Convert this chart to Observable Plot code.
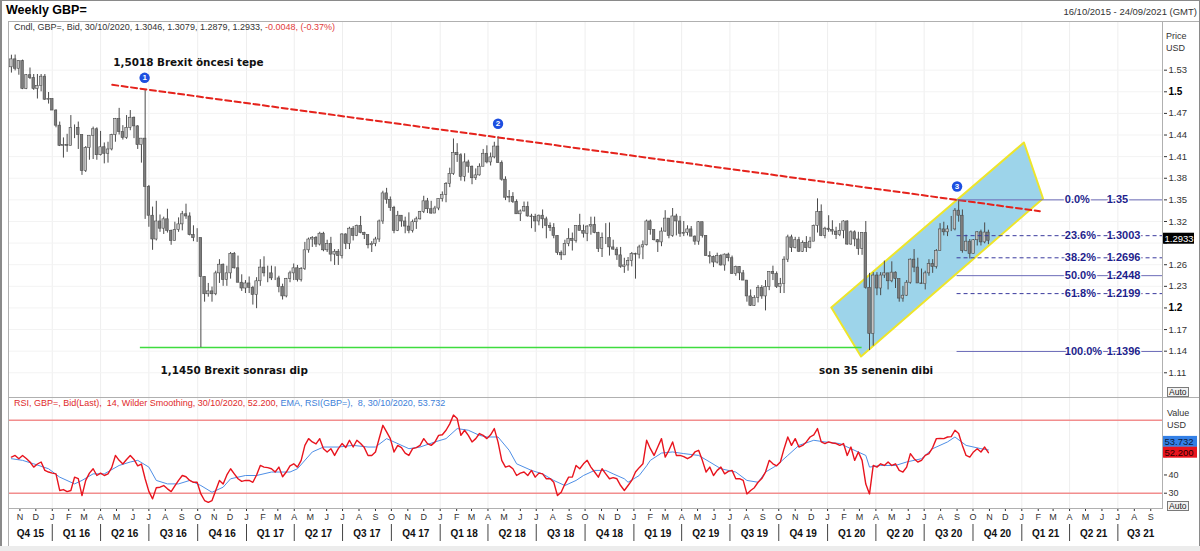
<!DOCTYPE html>
<html>
<head>
<meta charset="utf-8">
<script src="https://cdn.jsdelivr.net/npm/d3@7"></script>
<script src="https://cdn.jsdelivr.net/npm/@observablehq/plot@0.6"></script>
<style>
html,body{margin:0;padding:0;background:#fff;}
#wrap{position:relative;width:1200px;height:551px;overflow:hidden;background:#fff;font-family:"Liberation Sans",Arial,sans-serif;color:#333;}
.a{position:absolute;white-space:pre;line-height:1;}
.ln{position:absolute;background:#b0b0b0;}
.auto{position:absolute;font-size:8.5px;line-height:8px;height:8px;border:1px solid #7a7a7a;background:#f2f2f2;color:#222;padding:0 1px;white-space:pre;}
</style>
</head>
<body>
<div id="wrap">
  <div id="main" class="a" style="left:0;top:22px;"></div>
  <div id="rsi" class="a" style="left:0;top:397px;"></div>
  <div class="a" style="left:6px;top:4px;font-size:12.5px;font-weight:bold;color:#000;">Weekly GBP=</div>
  <div class="a" style="right:3px;top:7px;font-size:9.5px;color:#333;">16/10/2015 - 24/09/2021 (GMT)</div>
  <div class="a" style="left:14px;top:23px;font-size:9px;color:#333;">Cndl, GBP=, Bid, 30/10/2020, 1.3046, 1.3079, 1.2879, 1.2933, <span style="color:#e23b3b">-0.0048, (-0.37%)</span></div>
  <div class="a" style="left:14px;top:399px;font-size:9px;"><span style="color:#e02a2a">RSI, GBP=, Bid(Last),  14, Wilder Smoothing, 30/10/2020, 52.200, </span><span style="color:#3d7fd9">EMA, RSI(GBP=),  8, 30/10/2020, 53.732</span></div>
  <div class="a" style="left:1166px;top:32px;font-size:9px;">Price</div>
  <div class="a" style="left:1166px;top:44px;font-size:9px;">USD</div>
  <div class="a" style="left:1167px;top:409px;font-size:9px;">Value</div>
  <div class="a" style="left:1167px;top:421px;font-size:9px;">USD</div>
  <div class="auto" style="left:1167px;top:387px;">Auto</div>
  <div class="auto" style="left:1167px;top:501px;">Auto</div>
  <div class="ln" style="left:8px;top:21px;width:1192px;height:1px"></div>
  <div class="ln" style="left:8px;top:21px;width:1px;height:525px"></div>
  <div class="ln" style="left:1162px;top:21px;width:1px;height:487px"></div>
  <div class="ln" style="left:8px;top:397px;width:1192px;height:1px"></div>
  <div class="ln" style="left:8px;top:508px;width:1155px;height:1px"></div>
  <div class="ln" style="left:0;top:0;width:1200px;height:1px;background:#8a8a8a"></div>
  <div class="ln" style="left:0;top:0;width:2px;height:551px;background:#8a8a8a"></div>
  <div class="ln" style="right:0;top:0;width:1px;height:551px;background:#8a8a8a"></div>
  <div class="ln" style="left:0;top:546px;width:1200px;height:5px;background:#ececec"></div>
</div>
<script>
// ---------- DATA ----------
const firstWeek = "2015-10-16";   // Friday of first weekly bar
const firstOpen = 1.5340;
const closes = [
1.5450,1.5320,1.5425,1.5040,1.5230,1.5190,1.5040,1.5080,1.5210,1.4890,
1.4900,1.4740,1.4530,1.4250,1.4260,1.4250,1.4500,1.4500,1.4400,1.3900,
1.4220,1.4390,1.4480,1.4120,1.4230,1.4140,1.4200,1.4400,1.4620,1.4440,
1.4360,1.4500,1.4640,1.4520,1.4260,1.4350,1.3680,1.3280,1.2950,1.3200,
1.3100,1.3230,1.3070,1.2930,1.3080,1.3160,1.3300,1.3270,1.3010,1.2970,
1.2970,1.2430,1.2190,1.2230,1.2190,1.2480,1.2600,1.2390,1.2480,1.2750,
1.2550,1.2350,1.2270,1.2340,1.2280,1.2180,1.2370,1.2560,1.2480,1.2480,
1.2410,1.2410,1.2290,1.2160,1.2400,1.2480,1.2550,1.2390,1.2540,1.2800,
1.2950,1.2970,1.2880,1.3030,1.2800,1.2890,1.2740,1.2780,1.2720,1.3020,
1.2890,1.3100,1.3000,1.3140,1.3040,1.3010,1.2870,1.2890,1.2950,1.3200,
1.3590,1.3500,1.3390,1.3070,1.3280,1.3200,1.3130,1.3070,1.3190,1.3230,
1.3330,1.3480,1.3370,1.3310,1.3380,1.3510,1.3570,1.3720,1.3860,1.4150,
1.4120,1.3820,1.4020,1.3960,1.3800,1.3840,1.3960,1.4140,1.4020,1.4090,
1.4240,1.4010,1.3780,1.3530,1.3540,1.3470,1.3300,1.3340,1.3400,1.3270,
1.3260,1.3200,1.3280,1.3230,1.3140,1.3110,1.3000,1.2760,1.2730,1.2890,
1.2960,1.2930,1.3140,1.3070,1.3030,1.3130,1.3150,1.3040,1.2820,1.2970,
1.2970,1.2840,1.2810,1.2730,1.2570,1.2590,1.2650,1.2750,1.2740,1.2840,
1.2870,1.3200,1.3080,1.2940,1.2910,1.3060,1.3240,1.3000,1.3270,1.3200,
1.3030,1.3040,1.3090,1.2990,1.2920,1.3190,1.3000,1.2720,1.2710,1.2630,
1.2720,1.2590,1.2740,1.2690,1.2470,1.2570,1.2480,1.2380,1.2160,1.2030,
1.2140,1.2280,1.2160,1.2290,1.2500,1.2470,1.2290,1.2330,1.2670,1.2980,
1.2830,1.2940,1.2780,1.2900,1.2830,1.2920,1.3140,1.3330,1.3000,1.3100,
1.3080,1.3060,1.3010,1.3070,1.3200,1.2880,1.3050,1.2950,1.2820,1.3040,
1.2280,1.1640,1.2450,1.2270,1.2450,1.2480,1.2370,1.2490,1.2400,1.2130,
1.2170,1.2350,1.2670,1.2560,1.2340,1.2330,1.2480,1.2610,1.2570,1.2790,
1.3090,1.3050,1.3090,1.3090,1.3350,1.3280,1.2790,1.2920,1.2750,1.2940,
1.3050,1.2910,1.3046,1.2933];
const highs = [
1.5508,1.5510,1.5430,1.5440,1.5240,1.5330,1.5240,1.5240,1.5240,1.5240,
1.4990,1.4900,1.4750,1.4580,1.4360,1.4410,1.4670,1.4540,1.4580,1.4400,
1.4240,1.4390,1.4510,1.4500,1.4450,1.4290,1.4300,1.4410,1.4630,1.4770,
1.4530,1.4670,1.4740,1.4650,1.4530,1.4350,1.5018,1.3700,1.3400,1.3480,
1.3290,1.3260,1.3370,1.3080,1.3190,1.3250,1.3340,1.3440,1.3320,1.3140,
1.3100,1.2970,1.2430,1.2340,1.2290,1.2510,1.2670,1.2610,1.2580,1.2770,
1.2770,1.2720,1.2460,1.2380,1.2430,1.2300,1.2420,1.2670,1.2710,1.2580,
1.2580,1.2570,1.2440,1.2330,1.2410,1.2510,1.2610,1.2590,1.2560,1.2910,
1.2970,1.2990,1.2990,1.3050,1.3050,1.2940,1.2980,1.2810,1.2810,1.3030,
1.3030,1.3120,1.3130,1.3150,1.3270,1.3050,1.3010,1.2920,1.2980,1.3220,
1.3620,1.3660,1.3540,1.3410,1.3340,1.3280,1.3260,1.3320,1.3220,1.3260,
1.3340,1.3550,1.3520,1.3480,1.3410,1.3510,1.3610,1.3740,1.3940,1.4345,
1.4280,1.4140,1.4140,1.4050,1.3970,1.3930,1.4000,1.4200,1.4250,1.4150,
1.4300,1.4377,1.4040,1.3820,1.3630,1.3600,1.3500,1.3360,1.3470,1.3470,
1.3300,1.3300,1.3290,1.3360,1.3260,1.3180,1.3170,1.3000,1.2790,1.2940,
1.3100,1.3040,1.3140,1.3300,1.3150,1.3140,1.3260,1.3260,1.3050,1.3040,
1.3170,1.3180,1.2940,1.2840,1.2840,1.2690,1.2700,1.2770,1.2760,1.2870,
1.2930,1.3220,1.3220,1.3080,1.2950,1.3110,1.3350,1.3240,1.3380,1.3300,
1.3270,1.3200,1.3140,1.3130,1.3000,1.3200,1.3190,1.3000,1.2780,1.2720,
1.2760,1.2740,1.2750,1.2760,1.2720,1.2580,1.2570,1.2520,1.2380,1.2250,
1.2170,1.2310,1.2310,1.2380,1.2500,1.2580,1.2500,1.2410,1.2710,1.3010,
1.3010,1.2980,1.2980,1.2930,1.2990,1.2980,1.3150,1.3514,1.3430,1.3120,
1.3280,1.3210,1.3120,1.3170,1.3210,1.3210,1.3070,1.3070,1.3050,1.3040,
1.3200,1.2480,1.2490,1.2490,1.2490,1.2650,1.2480,1.2640,1.2500,1.2400,
1.2300,1.2380,1.2680,1.2810,1.2690,1.2540,1.2510,1.2670,1.2670,1.2810,
1.3170,1.3190,1.3140,1.3270,1.3380,1.3500,1.3360,1.3010,1.2950,1.2950,
1.3060,1.3080,1.3180,1.3079];
const lows = [
1.5260,1.5290,1.5230,1.5030,1.5030,1.5170,1.5020,1.4900,1.5000,1.4880,
1.4830,1.4740,1.4500,1.4240,1.4080,1.4160,1.4250,1.4350,1.4200,1.3840,
1.3880,1.4050,1.4060,1.4050,1.4110,1.4000,1.4010,1.4180,1.4300,1.4400,
1.4330,1.4340,1.4460,1.4350,1.4200,1.4010,1.3229,1.3120,1.2800,1.2930,
1.3050,1.3020,1.3040,1.2870,1.2930,1.3050,1.3070,1.3230,1.3000,1.2920,
1.2910,1.1450,1.2080,1.2150,1.2080,1.2170,1.2340,1.2300,1.2300,1.2400,
1.2540,1.2350,1.2230,1.2200,1.2200,1.2040,1.1990,1.2300,1.2430,1.2350,
1.2380,1.2380,1.2210,1.2110,1.2140,1.2350,1.2380,1.2360,1.2360,1.2520,
1.2760,1.2840,1.2840,1.2860,1.2780,1.2770,1.2640,1.2590,1.2590,1.2680,
1.2810,1.2810,1.2930,1.2990,1.3030,1.2950,1.2820,1.2770,1.2850,1.2910,
1.3160,1.3440,1.3340,1.3030,1.3060,1.3120,1.3030,1.3030,1.3040,1.3090,
1.3220,1.3310,1.3310,1.3300,1.3310,1.3350,1.3470,1.3460,1.3670,1.3840,
1.4020,1.3760,1.3750,1.3870,1.3710,1.3770,1.3830,1.3960,1.4000,1.3970,
1.4070,1.4010,1.3760,1.3490,1.3460,1.3450,1.3300,1.3200,1.3330,1.3260,
1.3100,1.3050,1.3140,1.3100,1.2960,1.3060,1.2960,1.2730,1.2660,1.2730,
1.2850,1.2790,1.2900,1.3070,1.2970,1.2920,1.3010,1.3030,1.2770,1.2700,
1.2880,1.2720,1.2800,1.2660,1.2550,1.2480,1.2510,1.2570,1.2400,1.2680,
1.2670,1.2860,1.3010,1.2930,1.2770,1.2850,1.3050,1.2960,1.2980,1.3000,
1.2980,1.2990,1.3000,1.2990,1.2870,1.2870,1.2970,1.2720,1.2610,1.2560,
1.2610,1.2580,1.2510,1.2640,1.2470,1.2440,1.2380,1.2380,1.2080,1.2020,
1.2020,1.2070,1.2120,1.1959,1.2240,1.2380,1.2270,1.2200,1.2200,1.2630,
1.2770,1.2820,1.2770,1.2770,1.2770,1.2820,1.2920,1.3040,1.2990,1.2960,
1.3050,1.3010,1.2950,1.2990,1.2960,1.2870,1.2870,1.2850,1.2730,1.2730,
1.2260,1.1409,1.1470,1.2170,1.2170,1.2410,1.2250,1.2350,1.2270,1.2080,
1.2080,1.2160,1.2330,1.2490,1.2340,1.2330,1.2250,1.2440,1.2480,1.2540,
1.2790,1.3000,1.2990,1.3060,1.3070,1.3190,1.2760,1.2780,1.2680,1.2750,
1.2860,1.2860,1.2890,1.2879];
// RSI(14, Wilder) weekly values
const rsiValues = [
49.8,50.7,48.9,50.7,49,47.1,44.3,46,47.1,42.5,
41.6,41,40.6,31.5,32,30.9,31.5,38.8,38,28.7,
37,41,43.4,39.7,41,39.7,40.6,44,50.7,48,
46,48.5,50.7,48.5,45,46,37.9,31,26.9,33,
33.3,34.2,32.4,30.9,34,37,39.7,39,37,36,
36,29.6,26,25,26,31.5,37,35,40,43.4,
40.6,37.9,36.5,37,37,36,40,45.2,44.3,44,
43.4,41.6,44.3,39,41.6,45,46.1,44.3,48,56.2,
59.9,58.1,57,59.9,54.4,52.6,54.4,50.7,54.4,57.2,
55,59,55.3,59,57.2,55,50.7,50.7,52.6,60,
67.2,63.6,59.9,52.6,56.2,55,52,50.7,54.4,55,
56.2,59.9,57.2,56.2,58,61.7,62,64.5,68,72.8,
70.9,61.7,64.5,61.7,58.1,59.9,62.7,61.7,59.9,62,
65.4,58,48,44.3,45,43.4,39.7,41,41.6,39.7,
42.5,38.8,41,40.6,37.9,38,36,28.7,30.5,35,
38.8,38.8,45.2,43.4,46.1,48,44.3,41.6,38.8,43.4,
40.6,37.9,38.5,37.9,34.2,31.5,34.2,37,41.6,44,
46.1,59,54.4,50.7,55.3,59.9,49.8,53.5,58.1,50.7,
50.7,50,48.9,50,52.6,53.5,48,41.6,44.3,39.7,
42.5,44.3,40.6,42,42.5,37.9,38,37,29.6,31.5,
33,36,38,41.6,48,46.1,45,47.1,54.4,60.8,
56.2,59.9,55.3,56.2,58.1,60.8,62,65.4,58.1,57.2,
58.1,57.5,57.2,56.2,57.2,50.7,55.3,48,52.6,48,
35,29.6,45.2,44.3,46.1,45.2,47.1,45.2,46.1,42.5,
41.6,44.3,51.7,48.9,47.1,48,50.7,51.7,55,59.9,
60,59.9,60.8,61,64.5,62.7,56.2,50.7,49.8,52.6,
54.4,52.6,55.3,52.2];
// EMA(8) of RSI, read at these bar indices
const emaWeeks = [0,3,6,10,13,17,19,22,25,29,32,34,37,39,42,45,48,51,54,57,59,63,66,70,75,77,81,84,88,92,96,98,101,103,107,110,114,117,120,123,126,128,131,134,136,140,143,146,149,152,154,157,160,162,165,166,169,171,172,175,178,181,185,188,191,195,198,201,203,206,209,212,216,219,223,226,230,231,234,238,241,245,248,252,254,257,261,263];
const emaValues = [48.9,48,46.1,43.4,38.8,35.1,37,40.6,40.6,45.2,47.1,48,44.3,37,35.1,35.1,37,34.2,30.5,33.3,37.9,39.7,39.7,41.6,41.6,43.4,52.6,55.3,55.3,56.2,55.3,55.3,59.9,58.1,54.4,55.3,58.1,59.9,65.4,64.5,61.7,60.8,60.8,53.5,46.1,42.5,40.6,37,34.2,37,39.7,42.5,42.5,40.6,37.9,36,39.7,45,48,52,52.6,51.7,50.7,47.1,43.4,41.6,37,36,41.6,45.2,50.7,56.2,59,58.1,57.2,54.4,50.7,44.3,45.2,45.2,47.1,48.9,54.4,58.1,60.8,56.2,54.4,53.7];

const lastClose = 1.2933;
const rsiLast = 52.200, emaLast = 53.732;
const priceTicks = [1.11,1.14,1.17,1.2,1.23,1.26,1.29,1.32,1.35,1.38,1.41,1.44,1.47,1.5,1.53];
const boldTicks = [1.2, 1.5];
const hiddenTicks = [1.29];          // covered by the last-price tag
const rsiTicks = [30,40,50,60];
const rsiHiddenTicks = [50,60];      // covered by the value tags
const rsiBands = [30,70];
const monthLetters = ["J","F","M","A","M","J","J","A","S","O","N","D"];
const quarterLabels = ["Q4 15","Q1 16","Q2 16","Q3 16","Q4 16","Q1 17","Q2 17","Q3 17","Q4 17","Q1 18","Q2 18","Q3 18","Q4 18","Q1 19","Q2 19","Q3 19","Q4 19","Q1 20","Q2 20","Q3 20","Q4 20","Q1 21","Q2 21","Q3 21"];

// Overlays
const trendDates = ["2016-04-23","2021-02-04"];
const trendPrices = [1.5097, 1.3343];
const dipLevel = 1.1450;
const dipDates = ["2016-06-15","2020-03-06"];
const channelDates = ["2020-01-08","2020-03-04","2021-02-10","2021-01-05"];
const channelPrices = [1.2006, 1.1326, 1.3519, 1.4296];
const fibPct = ["0.0%","23.6%","38.2%","50.0%","61.8%","100.0%"];
const fibLevels = [1.35, 1.3003, 1.2696, 1.2448, 1.2199, 1.1396];
const fibStartDate = "2020-09-01";
const markerDates = ["2016-06-23","2018-04-20","2020-09-01"];
const markerPrices = [1.5194, 1.4556, 1.3686];
const markerLabels = ["1","2","3"];
const noteTexts = ["1,5018 Brexit öncesi tepe","1,1450 Brexit sonrası dip","son 35 senenin dibi"];
const noteDates = ["2016-04-25","2016-07-23","2019-12-16"];
const notePrices = [1.5365, 1.1090, 1.1090];

// ---------- BUILD ----------
const DAY = 864e5;
const t0 = Date.parse(firstWeek);
const candles = closes.map((c, i) => ({
  date: new Date(t0 + i * 7 * DAY),
  open: i ? closes[i - 1] : firstOpen,
  high: highs[i], low: lows[i], close: c
}));
const rsi = rsiValues.map((v, i) => ({date: new Date(t0 + i * 7 * DAY), v}));
const ema = emaWeeks.map((w, i) => ({date: new Date(t0 + w * 7 * DAY), v: emaValues[i]}));
const trend = trendDates.map((d, i) => ({date: new Date(d), price: trendPrices[i]}));
const channel = channelDates.map((d, i) => ({date: new Date(d), price: channelPrices[i]}));
const dashedSet = new Set(["23.6%","38.2%","61.8%"]);
const fibs = fibPct.map((p, i) => ({pct: p, level: fibLevels[i], val: String(fibLevels[i]), dashed: dashedSet.has(p)}));
const markers = markerDates.map((d, i) => ({date: new Date(d), price: markerPrices[i], label: markerLabels[i]}));
const notes = noteTexts.map((t, i) => ({text: t, date: new Date(noteDates[i]), price: notePrices[i]}));

const xStart = new Date(Date.UTC(2015, 9, 10, 12));
const xEnd = new Date(Date.UTC(2021, 8, 25));
const fibStart = new Date(fibStartDate);
const pctX = new Date("2021-03-23");
const valX = new Date("2021-06-10");

const quarters = quarterLabels.map(l => {
  const q = +l[1], yy = 2000 + +l.slice(3);
  const s = Date.UTC(yy, (q - 1) * 3, 1), e = Date.UTC(yy, q * 3, 1);
  const a = Math.max(s, +xStart), b = Math.min(e, +xEnd);
  return {label: l, start: new Date(s), mid: new Date((a + b) / 2)};
});
const qSeps = quarters.slice(1).map(q => q.start);
const monthTicks = d3.utcMonth.range(xStart, xEnd);

const font = '"Liberation Sans", Arial, sans-serif';
const halfBody = 2.4 * DAY;

const mainPlot = Plot.plot({
  width: 1200, height: 375,
  marginLeft: 8, marginRight: 37, marginTop: 0, marginBottom: 0,
  style: {fontFamily: font, fontSize: "9.5px", color: "#333", background: "transparent"},
  x: {type: "utc", domain: [xStart, xEnd], axis: null},
  y: {domain: [1.075711, 1.596183], axis: "right", ticks: priceTicks, tickSize: 3, tickPadding: 2, label: null,
      tickFormat: d => (boldTicks.includes(d) || hiddenTicks.includes(d)) ? "" : String(d)},
  marks: [
    Plot.ruleX(qSeps, {x: d => d, stroke: "#eeeeee"}),
    Plot.ruleY(priceTicks, {y: d => d, stroke: "#f3f3f3"}),
    Plot.line(channel, {x: "date", y: "price", curve: "linear-closed", fill: "#9dd4ea", stroke: "#eee52a", strokeWidth: 2}),
    Plot.ruleY([dipLevel], {y: d => d, x1: () => new Date(dipDates[0]), x2: () => new Date(dipDates[1]), stroke: "#3fdc3f", strokeWidth: 1.5}),
    Plot.ruleX(candles, {x: "date", y1: "low", y2: "high", stroke: "#4a4a4a", strokeWidth: 1}),
    Plot.rect(candles, {filter: d => d.close >= d.open, x1: d => new Date(+d.date - halfBody), x2: d => new Date(+d.date + halfBody), y1: "open", y2: "close", fill: "#c4c4c4", stroke: "#4a4a4a", strokeWidth: 0.6}),
    Plot.rect(candles, {filter: d => d.close < d.open, x1: d => new Date(+d.date - halfBody), x2: d => new Date(+d.date + halfBody), y1: "open", y2: "close", fill: "#7d7d7d", stroke: "#4a4a4a", strokeWidth: 0.6}),
    Plot.line(trend, {x: "date", y: "price", stroke: "#e5231c", strokeWidth: 2, strokeDasharray: "6,3.5"}),
    Plot.ruleY(fibs, {filter: d => !d.dashed, y: "level", x1: () => fibStart, x2: () => xEnd, stroke: "#6b6bb8", strokeWidth: 1}),
    Plot.ruleY(fibs, {filter: d => d.dashed, y: "level", x1: () => fibStart, x2: () => xEnd, stroke: "#3a3a9e", strokeWidth: 1, strokeDasharray: "4,3"}),
    Plot.text(fibs, {x: () => pctX, y: "level", text: "pct", textAnchor: "start", fontFamily: font, fontWeight: "bold", fontSize: 11, fill: "#1e1e8c", stroke: "white", strokeWidth: 2.5}),
    Plot.text(fibs, {x: () => valX, y: "level", text: "val", textAnchor: "start", fontFamily: font, fontWeight: "bold", fontSize: 11, fill: "#1e1e8c", stroke: "white", strokeWidth: 2.5}),
    Plot.dot(markers, {x: "date", y: "price", r: 5.2, fill: "#1d4fe0", stroke: "none"}),
    Plot.text(markers, {x: "date", y: "price", text: "label", fill: "white", fontSize: 8, fontWeight: "bold"}),
    Plot.text(notes, {x: "date", y: "price", text: "text", textAnchor: "start", lineAnchor: "bottom", fontFamily: '"DejaVu Sans", Verdana, sans-serif', fontWeight: "bold", fontSize: 10.4, fill: "#111"}),
    Plot.text(boldTicks, {y: d => d, frameAnchor: "right", dx: 5, textAnchor: "start", text: d => String(d), fontWeight: "bold", fontSize: 10, fill: "#000"})
  ]
});
document.getElementById("main").appendChild(mainPlot);

const rsiPlot = Plot.plot({
  width: 1200, height: 148,
  marginLeft: 8, marginRight: 37, marginTop: 0, marginBottom: 37,
  style: {fontFamily: font, fontSize: "9px", color: "#333", background: "transparent"},
  x: {type: "utc", domain: [xStart, xEnd], ticks: monthTicks, tickFormat: d => monthLetters[d.getUTCMonth()], tickSize: 3, tickPadding: 2, label: null},
  y: {domain: [21.62, 82.44], axis: "right", ticks: rsiTicks, tickSize: 3, tickPadding: 2, label: null,
      tickFormat: d => rsiHiddenTicks.includes(d) ? "" : String(d)},
  marks: [
    Plot.ruleX(qSeps, {x: d => d, stroke: "#eeeeee"}),
    Plot.ruleY(rsiBands, {y: d => d, stroke: "#f28e8e", strokeWidth: 1.5}),
    Plot.line(ema, {x: "date", y: "v", stroke: "#4f8fe6", strokeWidth: 1}),
    Plot.line(rsi, {x: "date", y: "v", stroke: "#e8141e", strokeWidth: 1.4}),
    Plot.ruleX(qSeps, {x: d => d, insetTop: 127, insetBottom: -33, stroke: "#444", strokeWidth: 1}),
    Plot.text(quarters, {x: "mid", text: "label", frameAnchor: "bottom", lineAnchor: "middle", dy: 25, fontWeight: "bold", fontSize: 10, fill: "#111"})
  ]
});
document.getElementById("rsi").appendChild(rsiPlot);

// value tags on the right axis, placed through the plots' own scales
function tag(svgEl, yc, label, bg, fg, w) {
  const g = d3.select(svgEl).append("g").attr("text-anchor", "start");
  g.append("rect").attr("x", 1163).attr("y", yc - 5.5).attr("width", w).attr("height", 11).attr("fill", bg);
  g.append("text").attr("x", 1164.5).attr("y", yc).attr("dy", "0.35em").attr("text-anchor", "start").attr("fill", fg)
    .attr("font-family", font).attr("font-size", 9.5).text(label);
}
const mainSvg = mainPlot.tagName.toLowerCase() === "svg" ? mainPlot : mainPlot.querySelector("svg");
const rsiSvg = rsiPlot.tagName.toLowerCase() === "svg" ? rsiPlot : rsiPlot.querySelector("svg");
tag(mainSvg, mainPlot.scale("y").apply(lastClose) - 2, lastClose.toFixed(4), "#000", "#fff", 31);
const ry = rsiPlot.scale("y");
tag(rsiSvg, ry.apply(emaLast) - 8, emaLast.toFixed(3), "#3380e6", "#0d1a3a", 34);
tag(rsiSvg, ry.apply(rsiLast), rsiLast.toFixed(3), "#e8141e", "#2a0000", 34);
</script>
</body>
</html>
